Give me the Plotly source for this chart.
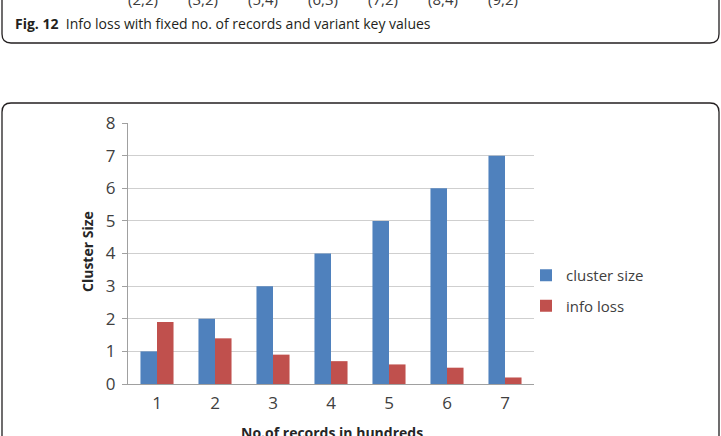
import plotly.graph_objects as go

# ---- data ----
records = ["1", "2", "3", "4", "5", "6", "7"]
cluster_size = [1, 2, 3, 4, 5, 6, 7]
info_loss = [1.9, 1.4, 0.9, 0.7, 0.6, 0.5, 0.2]
prev_fig_labels = ["(2,2)", "(3,2)", "(5,4)", "(6,3)", "(7,2)", "(8,4)", "(9,2)"]
caption_bold = "Fig. 12"
caption_text = "Info loss with fixed no. of records and variant key values"

W, H = 721, 436
L, R, T, B = 128, 534, 123, 384  # plot area in pixels


def px(x):
    return (x - L) / (R - L)


def py(y):
    return (B - y) / (B - T)


fig = go.Figure()
fig.add_trace(go.Bar(x=records, y=cluster_size, name="cluster size",
                     marker=dict(color="#4F81BD", line=dict(width=0)),
                     legendgroup="a"))
fig.add_trace(go.Bar(x=records, y=info_loss, name="info loss",
                     marker=dict(color="#C0504D", line=dict(width=0)),
                     legendgroup="b"))

font_main = "Open Sans, Lato, sans-serif"


def box_path(x0, x1, y_top, y_bot, r, open_top):
    if open_top:
        pts = (f"M {px(x0)},{py(y_top)} L {px(x0)},{py(y_bot - r)} "
               f"Q {px(x0)},{py(y_bot)} {px(x0 + r)},{py(y_bot)} "
               f"L {px(x1 - r)},{py(y_bot)} "
               f"Q {px(x1)},{py(y_bot)} {px(x1)},{py(y_bot - r)} "
               f"L {px(x1)},{py(y_top)}")
    else:
        pts = (f"M {px(x0)},{py(y_bot)} L {px(x0)},{py(y_top + r)} "
               f"Q {px(x0)},{py(y_top)} {px(x0 + r)},{py(y_top)} "
               f"L {px(x1 - r)},{py(y_top)} "
               f"Q {px(x1)},{py(y_top)} {px(x1)},{py(y_top + r)} "
               f"L {px(x1)},{py(y_bot)}")
    return pts


shapes = [
    dict(type="path", xref="paper", yref="paper",
         path=box_path(2, 719, -20, 43, 9, True),
         line=dict(color="#231F20", width=1.3), layer="above"),
    dict(type="path", xref="paper", yref="paper",
         path=box_path(2, 719, 103, 460, 9, False),
         line=dict(color="#231F20", width=1.3), layer="above"),
]

annotations = []
for i, lab in enumerate(prev_fig_labels):
    annotations.append(dict(text=lab, xref="paper", yref="paper",
                            x=px(143 + 60 * i), y=py(-1), xanchor="center",
                            yanchor="middle", showarrow=False,
                            font=dict(family=font_main, size=15, color="#3a3a3a")))
annotations.append(dict(text=f"<b>{caption_bold}</b>  {caption_text}",
                        xref="paper", yref="paper", x=px(13), y=py(24),
                        xanchor="left", yanchor="middle", showarrow=False,
                        font=dict(family=font_main, size=14, color="#231F20")))
annotations.append(dict(text="<b>Cluster Size</b>", xref="paper", yref="paper",
                        x=px(87), y=py(252), xanchor="center", yanchor="middle",
                        textangle=-90, showarrow=False,
                        font=dict(family=font_main, size=14, color="#262626")))
annotations.append(dict(text="<b>No.of records in hundreds</b>", xref="paper",
                        yref="paper", x=px(332), y=py(432), xanchor="center",
                        yanchor="middle", showarrow=False,
                        font=dict(family=font_main, size=14, color="#262626")))

fig.update_layout(
    width=W, height=H,
    margin=dict(l=L, r=W - R, t=T, b=H - B, pad=0),
    paper_bgcolor="white", plot_bgcolor="white",
    barmode="group", bargap=0.43, bargroupgap=0,
    showlegend=True,
    legend=dict(x=px(526), y=py(259), xanchor="left", yanchor="top",
                traceorder="grouped", tracegroupgap=8,
                font=dict(family=font_main, size=15, color="#404040"),
                bgcolor="rgba(0,0,0,0)"),
    xaxis=dict(type="category", range=[-0.5, 6.5], showgrid=False,
               showline=True, linecolor="#a0a0a0", linewidth=1,
               ticks="", ticklabelstandoff=4,
               tickfont=dict(family=font_main, size=17, color="#404040"),
               fixedrange=True),
    yaxis=dict(range=[0, 8], dtick=1, showgrid=True, gridcolor="#cfcfcf",
               gridwidth=1, showline=True, linecolor="#a0a0a0", linewidth=1,
               ticks="outside", ticklen=5, tickcolor="#a0a0a0",
               zeroline=False, ticklabelstandoff=3,
               tickfont=dict(family=font_main, size=17, color="#404040")),
    shapes=shapes,
    annotations=annotations,
    font=dict(family=font_main),
)

fig.write_html("out.html")
